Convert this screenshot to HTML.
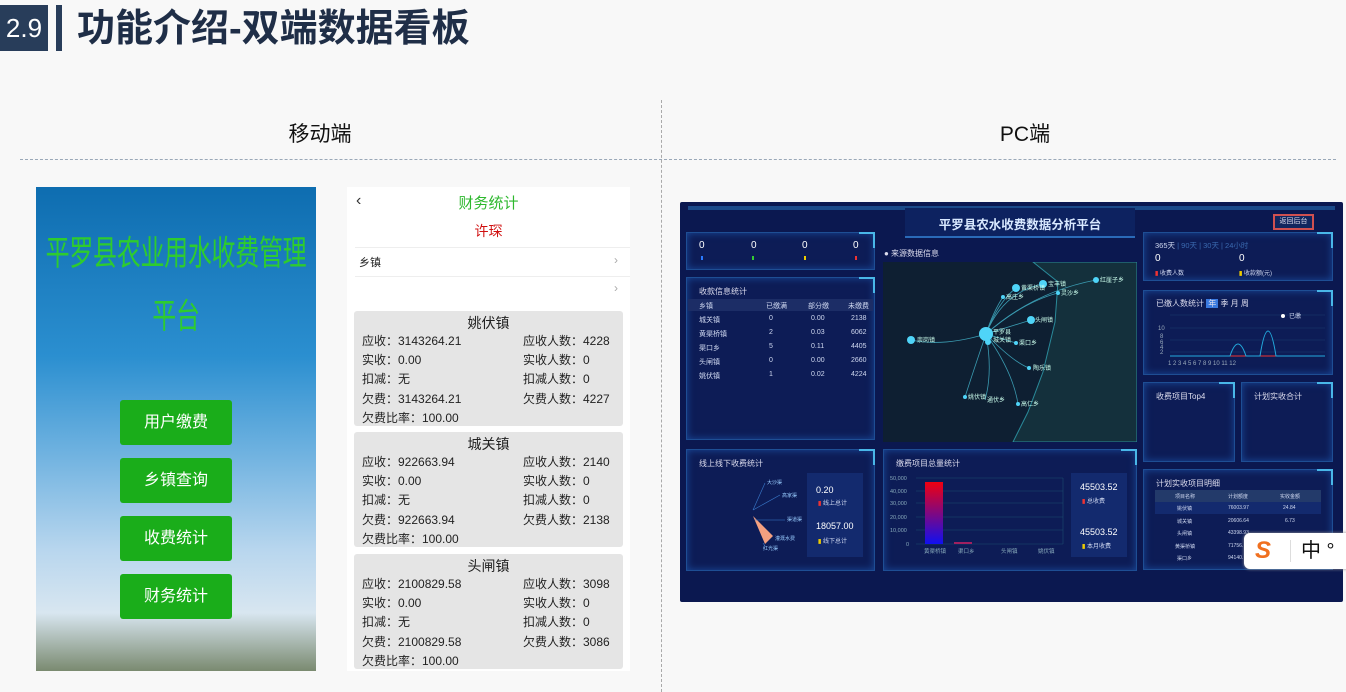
<!DOCTYPE html>
<html><head><meta charset="utf-8"><style>
*{margin:0;padding:0;box-sizing:border-box}
body{width:1346px;height:692px;background:#f8f8f8;position:relative;overflow:hidden;font-family:"Liberation Sans","Noto Sans CJK SC",sans-serif}
.a{position:absolute}
.btn{position:absolute;left:120px;width:112px;height:45px;background:#1aad1a;color:#fff;font-size:16px;text-align:center;line-height:45px;border-radius:3px}
.card{position:absolute;left:354px;width:269px;height:115px;background:#e5e5e5;border-radius:3px;font-size:12px;color:#222}
.card .t{position:absolute;left:0;width:100%;text-align:center;top:2px;font-size:14px}
.card span{position:absolute;white-space:nowrap}
.p{position:absolute;background:#0d1c56;border:1px solid #1e4e94;box-shadow:inset 0 0 8px #1a4a9a}
.p:after{content:"";position:absolute;right:-1px;top:-1px;width:14px;height:14px;border-top:2px solid #49b7e8;border-right:2px solid #49b7e8}
.p .h{position:absolute;left:12px;top:8px;color:#dde;font-size:8px}
.w{color:#cfd8f0;font-size:7px;position:absolute;white-space:nowrap}
.mt{position:absolute;left:36px;width:280px;text-align:center;color:#2ecc2e;font-size:24px;line-height:30px;transform:scaleY(1.45);white-space:nowrap;letter-spacing:-0.3px}
</style></head><body>
<div class="a" style="left:0;top:5px;width:48px;height:46px;background:#283d5a;color:#fff;font-size:26px;line-height:46px;text-align:center">2.9</div>
<div class="a" style="left:56px;top:5px;width:6px;height:46px;background:#283d5a"></div>
<div class="a" style="left:77px;top:4px;font-size:38px;font-weight:bold;color:#1f2e47;line-height:50px">功能介绍-双端数据看板</div>
<div class="a" style="left:270px;top:118px;width:100px;text-align:center;font-size:21px;color:#111">移动端</div>
<div class="a" style="left:975px;top:118px;width:100px;text-align:center;font-size:21px;color:#111">PC端</div>
<div class="a" style="left:20px;top:159px;width:1316px;border-top:1px dashed #9aa8b8"></div>
<div class="a" style="left:661px;top:100px;height:592px;border-left:1px dashed #aaa"></div>

<div class="a" style="left:36px;top:187px;width:280px;height:484px;background:linear-gradient(180deg,#0e6db0 0%,#2b8fd0 35%,#6fb2e0 55%,#b8d6ee 75%,#d8e6f0 88%,#7a8a70 100%)"></div>
<div class="mt" style="top:240px">平罗县农业用水收费管理</div>
<div class="mt" style="top:303px">平台</div>
<div class="btn" style="top:400px">用户缴费</div>
<div class="btn" style="top:458px">乡镇查询</div>
<div class="btn" style="top:516px">收费统计</div>
<div class="btn" style="top:574px">财务统计</div>

<div class="a" style="left:347px;top:187px;width:283px;height:484px;background:#fff"></div>
<div class="a" style="left:356px;top:192px;font-size:16px;color:#333">‹</div>
<div class="a" style="left:347px;top:192px;width:283px;text-align:center;color:#2eb82e;font-size:15px">财务统计</div>
<div class="a" style="left:347px;top:221px;width:283px;text-align:center;color:#d01010;font-size:14px">许琛</div>
<div class="a" style="left:355px;top:247px;width:275px;border-top:1px solid #eee"></div>
<div class="a" style="left:359px;top:254px;font-size:11px;color:#222">乡镇</div>
<div class="a" style="left:614px;top:253px;font-size:12px;color:#aaa">›</div>
<div class="a" style="left:355px;top:276px;width:275px;border-top:1px solid #eee"></div>
<div class="a" style="left:614px;top:281px;font-size:12px;color:#aaa">›</div>

<div class="card" style="top:311px"><div class="t">姚伏镇</div>
<span style="left:8px;top:21px">应收：3143264.21</span><span style="left:169px;top:21px">应收人数：4228</span>
<span style="left:8px;top:40px">实收：0.00</span><span style="left:169px;top:40px">实收人数：0</span>
<span style="left:8px;top:59px">扣减：无</span><span style="left:169px;top:59px">扣减人数：0</span>
<span style="left:8px;top:79px">欠费：3143264.21</span><span style="left:169px;top:79px">欠费人数：4227</span>
<span style="left:8px;top:98px">欠费比率：100.00</span></div>
<div class="card" style="top:432px"><div class="t">城关镇</div>
<span style="left:8px;top:21px">应收：922663.94</span><span style="left:169px;top:21px">应收人数：2140</span>
<span style="left:8px;top:40px">实收：0.00</span><span style="left:169px;top:40px">实收人数：0</span>
<span style="left:8px;top:59px">扣减：无</span><span style="left:169px;top:59px">扣减人数：0</span>
<span style="left:8px;top:79px">欠费：922663.94</span><span style="left:169px;top:79px">欠费人数：2138</span>
<span style="left:8px;top:98px">欠费比率：100.00</span></div>
<div class="card" style="top:554px"><div class="t">头闸镇</div>
<span style="left:8px;top:21px">应收：2100829.58</span><span style="left:169px;top:21px">应收人数：3098</span>
<span style="left:8px;top:40px">实收：0.00</span><span style="left:169px;top:40px">实收人数：0</span>
<span style="left:8px;top:59px">扣减：无</span><span style="left:169px;top:59px">扣减人数：0</span>
<span style="left:8px;top:79px">欠费：2100829.58</span><span style="left:169px;top:79px">欠费人数：3086</span>
<span style="left:8px;top:98px">欠费比率：100.00</span></div>

<!-- PC dashboard -->
<div class="a" style="left:680px;top:202px;width:663px;height:400px;background:#0b1850;border-radius:2px"></div>
<div class="a" style="left:688px;top:206px;width:647px;height:4px;background:#1b4a8a"></div>
<div class="a" style="left:905px;top:208px;width:230px;height:30px;background:#0d2260;border-bottom:2px solid #2a6ab8"></div>
<div class="a" style="left:905px;top:214px;width:230px;text-align:center;color:#d8e8ff;font-size:12.5px;font-weight:bold">平罗县农水收费数据分析平台</div>
<div class="a" style="left:1273px;top:214px;width:41px;height:16px;border:2px solid #d05050;background:#12265e;color:#dde;font-size:7px;text-align:center;line-height:12px">返回后台</div>

<div class="p" style="left:686px;top:232px;width:189px;height:38px"></div>
<div class="w" style="left:699px;top:240px;font-size:10px;color:#fff">0</div><div class="w" style="left:751px;top:240px;font-size:10px;color:#fff">0</div><div class="w" style="left:802px;top:240px;font-size:10px;color:#fff">0</div><div class="w" style="left:853px;top:240px;font-size:10px;color:#fff">0</div>
<div class="a" style="left:701px;top:256px;width:2px;height:4px;background:#2a7aff"></div><div class="a" style="left:752px;top:256px;width:2px;height:4px;background:#3c3"></div><div class="a" style="left:804px;top:256px;width:2px;height:4px;background:#ec0"></div><div class="a" style="left:855px;top:256px;width:2px;height:4px;background:#e33"></div>

<div class="p" style="left:686px;top:277px;width:189px;height:163px"><div class="h">收款信息统计</div></div>
<div class="a" style="left:688px;top:299px;width:185px;height:12px;background:#1c2d66"></div>
<div class="w" style="left:699px;top:301px">乡镇</div><div class="w" style="left:766px;top:301px">已缴满</div><div class="w" style="left:808px;top:301px">部分缴</div><div class="w" style="left:848px;top:301px">未缴费</div>
<div class="w" style="left:699px;top:315px">城关镇</div><div class="w" style="left:769px;top:315px">0</div><div class="w" style="left:811px;top:315px">0.00</div><div class="w" style="left:851px;top:315px">2138</div>
<div class="w" style="left:699px;top:329px">黄渠桥镇</div><div class="w" style="left:769px;top:329px">2</div><div class="w" style="left:811px;top:329px">0.03</div><div class="w" style="left:851px;top:329px">6062</div>
<div class="w" style="left:699px;top:343px">渠口乡</div><div class="w" style="left:769px;top:343px">5</div><div class="w" style="left:811px;top:343px">0.11</div><div class="w" style="left:851px;top:343px">4405</div>
<div class="w" style="left:699px;top:357px">头闸镇</div><div class="w" style="left:769px;top:357px">0</div><div class="w" style="left:811px;top:357px">0.00</div><div class="w" style="left:851px;top:357px">2660</div>
<div class="w" style="left:699px;top:371px">姚伏镇</div><div class="w" style="left:769px;top:371px">1</div><div class="w" style="left:811px;top:371px">0.02</div><div class="w" style="left:851px;top:371px">4224</div>

<div class="w" style="left:884px;top:248px;font-size:8px;color:#dde">● 来源数据信息</div>
<svg class="a" style="left:883px;top:262px" width="254" height="180">
<rect width="254" height="180" fill="#0e1f32"/>
<polygon points="150,0 175,20 172,60 160,110 145,150 130,180 254,180 254,0" fill="#14303c" stroke="#2a8a9a" stroke-width="1"/>
<g stroke="#3a9ab0" fill="none" stroke-width="0.8">
<path d="M103,72 Q120,30 160,22"/><path d="M103,72 Q115,40 133,26"/><path d="M103,72 Q150,30 213,18"/><path d="M103,72 Q110,50 120,35"/><path d="M103,72 Q140,40 175,31"/><path d="M103,72 L148,58"/><path d="M103,72 Q60,85 28,78"/><path d="M103,72 L133,81"/><path d="M103,72 Q130,100 146,106"/><path d="M103,72 Q90,110 82,135"/><path d="M103,72 Q110,110 102,138"/><path d="M103,72 Q130,110 135,142"/>
</g>
<g fill="#4fd4f8"><circle cx="103" cy="72" r="7"/><circle cx="28" cy="78" r="4"/><circle cx="160" cy="22" r="4"/><circle cx="133" cy="26" r="4"/><circle cx="213" cy="18" r="3"/><circle cx="175" cy="31" r="2"/><circle cx="120" cy="35" r="2"/><circle cx="148" cy="58" r="4"/><circle cx="105" cy="80" r="3"/><circle cx="133" cy="81" r="2"/><circle cx="146" cy="106" r="2"/><circle cx="82" cy="135" r="2"/><circle cx="135" cy="142" r="2"/></g>
<g fill="#cfe" font-size="6" font-family="Noto Sans CJK SC,sans-serif"><text x="165" y="24">宝丰镇</text><text x="138" y="28">黄渠桥镇</text><text x="217" y="20">红崖子乡</text><text x="178" y="33">灵沙乡</text><text x="123" y="37">高庄乡</text><text x="152" y="60">头闸镇</text><text x="110" y="72">平罗县</text><text x="110" y="80">城关镇</text><text x="136" y="83">渠口乡</text><text x="34" y="80">崇岗镇</text><text x="150" y="108">陶乐镇</text><text x="85" y="137">姚伏镇</text><text x="104" y="140">通伏乡</text><text x="138" y="144">高仁乡</text></g>
</svg>

<div class="p" style="left:1143px;top:232px;width:190px;height:49px"></div>
<div class="w" style="left:1155px;top:240px;font-size:7.5px">365天 <span style="color:#3a6ab0;position:static">| 90天 | 30天 | 24小时</span></div>
<div class="w" style="left:1155px;top:253px;font-size:10px;color:#fff">0</div><div class="w" style="left:1239px;top:253px;font-size:10px;color:#fff">0</div>
<div class="w" style="left:1155px;top:268px;font-size:6px"><b style="color:#e33">▮</b> 收费人数</div><div class="w" style="left:1239px;top:268px;font-size:6px"><b style="color:#ec0">▮</b> 收款额(元)</div>

<div class="p" style="left:1143px;top:290px;width:190px;height:85px"><div class="h" style="top:7px">已缴人数统计 <span style="background:#3a7ae0;padding:0 2px">年</span> 季 月 周</div></div>
<svg class="a" style="left:1150px;top:310px" width="180" height="60">
<g stroke="#1c3a70" stroke-width="0.5"><line x1="20" y1="5" x2="175" y2="5"/><line x1="20" y1="18" x2="175" y2="18"/><line x1="20" y1="30" x2="175" y2="30"/><line x1="20" y1="42" x2="175" y2="42"/></g>
<line x1="20" y1="46" x2="175" y2="46" stroke="#e33" stroke-width="1"/>
<path d="M20,46 L80,46 Q88,22 96,46 L110,46 Q118,-4 126,46 L175,46" stroke="#2ad" fill="none" stroke-width="1"/>
<circle cx="133" cy="6" r="2" fill="#fff"/><text x="139" y="8" fill="#cfd8f0" font-size="6">已缴</text>
<g fill="#9ab" font-size="6"><text x="8" y="20">10</text><text x="10" y="28">8</text><text x="10" y="34">6</text><text x="10" y="39">4</text><text x="10" y="44">2</text><text x="18" y="55">1   2   3   4   5   6   7   8   9  10  11  12</text></g>
</svg>

<div class="p" style="left:1143px;top:382px;width:92px;height:80px"><div class="h">收费项目Top4</div></div>
<div class="p" style="left:1241px;top:382px;width:92px;height:80px"><div class="h">计划实收合计</div></div>

<div class="p" style="left:686px;top:449px;width:189px;height:122px"><div class="h">线上线下收费统计</div></div>
<svg class="a" style="left:745px;top:478px" width="70" height="75"><path d="M8,38 L28,58 L20,66 Z" fill="#f4a080"/><g stroke="#3a7acc" fill="none" stroke-width="0.6"><path d="M8,32 L20,5"/><path d="M8,32 L35,17"/><path d="M10,42 L40,42"/><path d="M18,65 L20,68"/></g><g fill="#9cf" font-size="5"><text x="22" y="6">大沙渠</text><text x="37" y="19">高家渠</text><text x="42" y="43">渠道渠</text><text x="30" y="62">灌溉水费</text><text x="18" y="72">红光渠</text></g></svg>
<div class="a" style="left:807px;top:473px;width:56px;height:84px;background:#132a6e"></div>
<div class="w" style="left:816px;top:485px;font-size:9px;color:#fff">0.20</div><div class="w" style="left:818px;top:498px;font-size:6px"><b style="color:#e33">▮</b> 线上总计</div>
<div class="w" style="left:816px;top:521px;font-size:9px;color:#fff">18057.00</div><div class="w" style="left:818px;top:536px;font-size:6px"><b style="color:#ec0">▮</b> 线下总计</div>

<div class="p" style="left:883px;top:449px;width:254px;height:122px"><div class="h">缴费项目总量统计</div></div>
<svg class="a" style="left:888px;top:472px" width="180" height="85">
<defs><linearGradient id="g" x1="0" y1="0" x2="0" y2="1"><stop offset="0" stop-color="#f00010"/><stop offset="1" stop-color="#1010f0"/></linearGradient></defs>
<g stroke="#1c4a70" stroke-width="0.6"><line x1="28" y1="6" x2="175" y2="6"/><line x1="28" y1="19" x2="175" y2="19"/><line x1="28" y1="31" x2="175" y2="31"/><line x1="28" y1="45" x2="175" y2="45"/><line x1="28" y1="58" x2="175" y2="58"/><line x1="28" y1="72" x2="175" y2="72"/><line x1="175" y1="6" x2="175" y2="72"/></g>
<rect x="37" y="10" width="18" height="62" fill="url(#g)"/><rect x="66" y="70" width="18" height="2" fill="#a02060"/>
<g fill="#8ab" font-size="5.5"><text x="2" y="8">50,000</text><text x="2" y="21">40,000</text><text x="2" y="33">30,000</text><text x="2" y="47">20,000</text><text x="2" y="60">10,000</text><text x="18" y="74">0</text><text x="36" y="81">黄渠桥镇</text><text x="70" y="81">渠口乡</text><text x="113" y="81">头闸镇</text><text x="150" y="81">姚伏镇</text></g></svg>
<div class="a" style="left:1071px;top:473px;width:56px;height:84px;background:#132a6e"></div>
<div class="w" style="left:1080px;top:482px;font-size:9px;color:#fff">45503.52</div><div class="w" style="left:1082px;top:496px;font-size:6px"><b style="color:#e33">▮</b> 总收费</div>
<div class="w" style="left:1080px;top:527px;font-size:9px;color:#fff">45503.52</div><div class="w" style="left:1082px;top:541px;font-size:6px"><b style="color:#ec0">▮</b> 本月收费</div>

<div class="p" style="left:1143px;top:469px;width:190px;height:101px"><div class="h">计划实收项目明细</div></div>
<div class="a" style="left:1155px;top:490px;width:166px;height:12px;background:#233a6a"></div>
<div class="w" style="left:1175px;top:493px;font-size:5px">项目名称</div><div class="w" style="left:1228px;top:493px;font-size:5px">计划额度</div><div class="w" style="left:1280px;top:493px;font-size:5px">实收金额</div>
<div class="a" style="left:1155px;top:502px;width:166px;height:12px;background:#132a6e"></div>
<div class="w" style="left:1177px;top:505px;font-size:5px">姚伏镇</div><div class="w" style="left:1228px;top:505px;font-size:5px">76003.97</div><div class="w" style="left:1283px;top:505px;font-size:5px">24.84</div>
<div class="w" style="left:1177px;top:518px;font-size:5px">城关镇</div><div class="w" style="left:1228px;top:518px;font-size:5px">20606.64</div><div class="w" style="left:1285px;top:518px;font-size:5px">6.73</div>
<div class="w" style="left:1177px;top:530px;font-size:5px">头闸镇</div><div class="w" style="left:1228px;top:530px;font-size:5px">43398.93</div>
<div class="w" style="left:1175px;top:543px;font-size:5px">黄渠桥镇</div><div class="w" style="left:1228px;top:543px;font-size:5px">71756.</div>
<div class="w" style="left:1177px;top:555px;font-size:5px">渠口乡</div><div class="w" style="left:1228px;top:555px;font-size:5px">94140.</div>

<div class="a" style="left:1244px;top:533px;width:110px;height:36px;background:#fff;border-radius:6px;box-shadow:0 0 3px #999"></div>
<div class="a" style="left:1255px;top:537px;font-size:24px;font-weight:bold;font-style:italic;color:#f07020;line-height:28px">S</div>
<div class="a" style="left:1290px;top:540px;width:1px;height:22px;background:#ddd"></div>
<div class="a" style="left:1301px;top:538px;font-size:20px;color:#111;line-height:26px">中 °</div>
</body></html>
